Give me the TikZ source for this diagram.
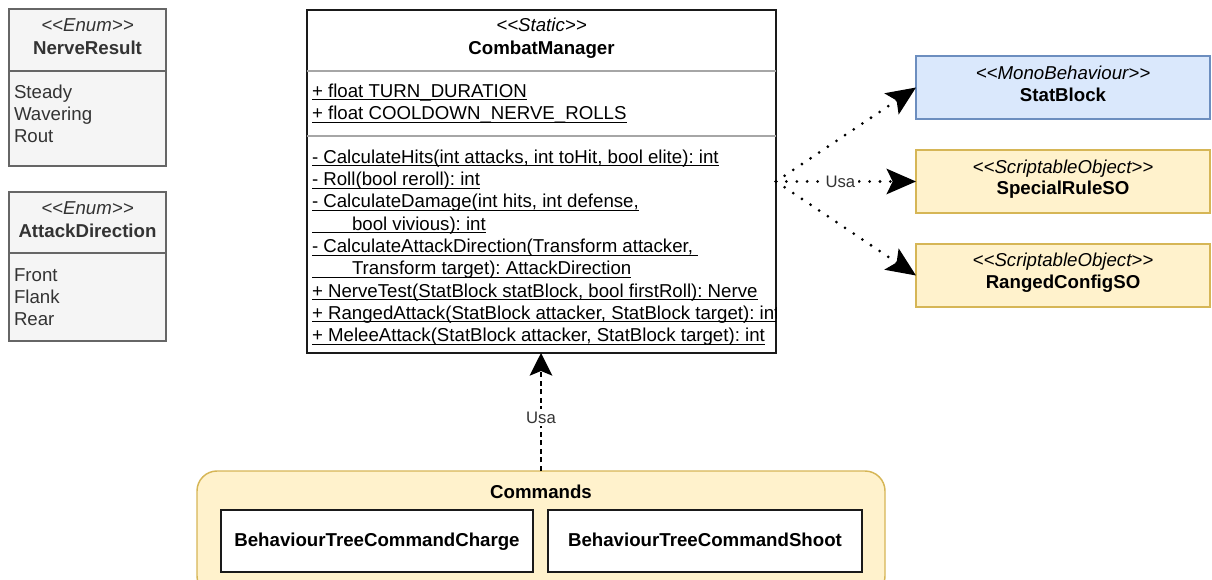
\documentclass[tikz,border=0pt]{standalone}
\usepackage{fontspec}
\setmainfont{Liberation Sans}
\usetikzlibrary{arrows.meta}

\definecolor{enumfill}{HTML}{F5F5F5}
\definecolor{enumline}{HTML}{666666}
\definecolor{enumtext}{HTML}{333333}
\definecolor{bluefill}{HTML}{DAE8FC}
\definecolor{blueline}{HTML}{6C8EBF}
\definecolor{yelfill}{HTML}{FFF2CC}
\definecolor{yelline}{HTML}{D6B656}
\definecolor{sepgray}{HTML}{A6A6A6}
\definecolor{boxline}{HTML}{1A1A1A}

% underline at a fixed depth, spanning the whole box (leading space included)
\newcommand\ulc[1]{\setbox0=\hbox{#1}\rlap{\rule[-2.3pt]{\wd0}{0.75pt}}\box0}
% stereotype in double angle brackets, kept as two separate characters
\newcommand\stype[1]{\textless\kern0pt\textless#1\textgreater\kern0pt\textgreater}
\newcommand\px{0.75pt}
\newcommand\basefont{\fontsize{14pt}{16.8pt}\selectfont}
\frenchspacing

\begin{document}
\begin{tikzpicture}[x=0.75pt,y=-0.75pt,
  box/.style={draw, rectangle, line width=1.1pt, inner sep=0pt, outer sep=0pt, anchor=north west},
  cmdbox/.style={box, fill=white, draw=boxline, minimum height=62*\px,
    font=\basefont\bfseries, text height=10.2pt, text depth=2pt},
  member/.style={inner sep=0pt, outer sep=0pt, anchor=base west, font=\basefont},
  stereo/.style={inner sep=0pt, outer sep=0pt, anchor=base, font=\basefont\itshape},
  ttl/.style={inner sep=0pt, outer sep=0pt, anchor=base, font=\basefont\bfseries},
  sep/.style={line width=0.8pt},
  lbl/.style={fill=white, inner sep=2pt, text=enumtext, font=\fontsize{12.5pt}{15pt}\selectfont},
  uses/.style={line width=2.3pt, dash pattern=on 0pt off 7.8pt, line cap=round,
    -{Stealth[length=22pt,width=19pt,inset=4.5pt]}},
  dep/.style={line width=1.1pt, dash pattern=on 3.8pt off 2.6pt,
    -{Stealth[length=17pt,width=17pt,inset=3.5pt]}}
]
\useasboundingbox (0,0) rectangle (1212,580);

% ---- enumeration NerveResult
\node[box, fill=enumfill, draw=enumline, minimum width=157*\px, minimum height=157*\px] (nr) at (9,9) {};
\draw[sep, enumline] (nr.west |- 0,71) -- (nr.east |- 0,71);
\node[stereo, text=enumtext] (nrs) at (87.5,32) {\stype{Enum}};
\node[ttl, text=enumtext] (nrt) at (87.5,54.5) {NerveResult};
\node[member, text=enumtext] (nr1) at (14,99) {Steady};
\node[member, text=enumtext] (nr2) at (14,121) {Wavering};
\node[member, text=enumtext] (nr3) at (14,143) {Rout};

% ---- enumeration AttackDirection
\node[box, fill=enumfill, draw=enumline, minimum width=157*\px, minimum height=149*\px] (ad) at (9,192) {};
\draw[sep, enumline] (ad.west |- 0,253) -- (ad.east |- 0,253);
\node[stereo, text=enumtext] (ads) at (87.5,215) {\stype{Enum}};
\node[ttl, text=enumtext] (adt) at (87.5,237.5) {AttackDirection};
\node[member, text=enumtext] (ad1) at (14,281.7) {Front};
\node[member, text=enumtext] (ad2) at (14,303.7) {Flank};
\node[member, text=enumtext] (ad3) at (14,326) {Rear};

% ---- static class CombatManager
\node[box, fill=white, draw=boxline, minimum width=469*\px, minimum height=343*\px] (cm) at (307,10) {};
\draw[sep, sepgray] (cm.west |- 0,71) -- (cm.east |- 0,71);
\draw[sep, sepgray] (cm.west |- 0,136) -- (cm.east |- 0,136);
\node[stereo] (cms) at (541.5,32) {\stype{Static}};
\node[ttl] (cmt) at (541.5,54.3) {CombatManager};
\node[member] (a1) at (312,97.3) {\ulc{+ float TURN\_DURATION}};
\node[member] (a2) at (312,119.6) {\ulc{+ float COOLDOWN\_NERVE\_ROLLS}};
\begin{scope}
  \clip (cm.north west) rectangle (cm.south east);
  \node[member] (m1) at (312,163.3) {\ulc{- CalculateHits(int attacks, int toHit, bool elite): int}};
  \node[member] (m2) at (312,185.6) {\ulc{- Roll(bool reroll): int}};
  \node[member] (m3) at (312,207.9) {\ulc{- CalculateDamage(int hits, int defense,}};
  \node[member] (m4) at (312,230.2) {\ulc{\hspace*{30pt}bool vivious): int}};
  \node[member] (m5) at (312,252.5) {\ulc{- CalculateAttackDirection(Transform attacker,\ }};
  \node[member] (m6) at (312,274.8) {\ulc{\hspace*{30pt}Transform target): AttackDirection}};
  \node[member] (m7) at (312,297.1) {\ulc{+ NerveTest(StatBlock statBlock, bool firstRoll): Nerve}};
  \node[member] (m8) at (312,319.4) {\ulc{+ RangedAttack(StatBlock attacker, StatBlock target): int}};
  \node[member] (m9) at (312,341.7) {\ulc{+ MeleeAttack(StatBlock attacker, StatBlock target): int}};
\end{scope}

% ---- used classes
\node[box, fill=bluefill, draw=blueline, minimum width=294*\px, minimum height=63*\px] (sb) at (916,56) {};
\node[stereo] (sbs) at (1063,79.5) {\stype{MonoBehaviour}};
\node[ttl] (sbt) at (1063,101.5) {StatBlock};

\node[box, fill=yelfill, draw=yelline, minimum width=294*\px, minimum height=63*\px] (sr) at (916,150) {};
\node[stereo] (srs) at (1063,173.5) {\stype{ScriptableObject}};
\node[ttl] (srt) at (1063,194.5) {SpecialRuleSO};

\node[box, fill=yelfill, draw=yelline, minimum width=294*\px, minimum height=63*\px] (rc) at (916,244) {};
\node[stereo] (rcs) at (1063,266.5) {\stype{ScriptableObject}};
\node[ttl] (rct) at (1063,288.5) {RangedConfigSO};

% ---- Commands package
\node[box, fill=yelfill, draw=yelline, rounded corners=15pt, minimum width=688*\px, minimum height=125*\px] (cmds) at (197,471) {};
\node[ttl] (cmdt) at (541,498.5) {Commands};
\node[cmdbox, minimum width=312*\px] (chg) at (221,510) {BehaviourTreeCommandCharge};
\node[cmdbox, minimum width=314*\px] (sht) at (548,510) {BehaviourTreeCommandShoot};

% ---- dependencies
\coordinate (fan) at (cm.east |- sr.west);
\draw[uses] (fan) -- (sb.west);
\draw[uses] (fan) -- node[lbl, pos=0.46] (u1) {Usa} (sr.west);
\draw[uses] (fan) -- (rc.west);
\draw[dep] (cmds.north) -- node[lbl, pos=0.45] (u2) {Usa} (cmds.north |- cm.south);
\end{tikzpicture}
\end{document}
